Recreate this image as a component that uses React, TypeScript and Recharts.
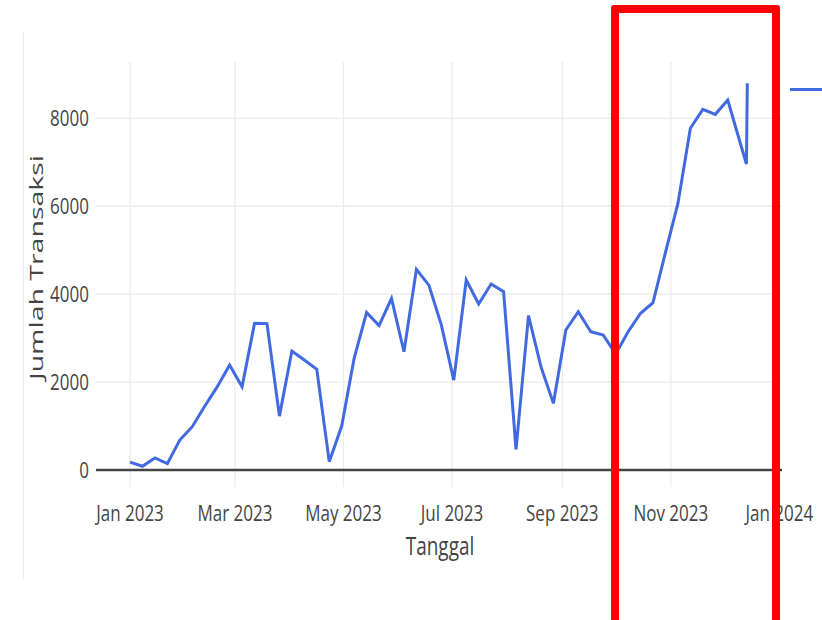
import React from 'react';
import { LineChart, Line, XAxis, YAxis, CartesianGrid, ReferenceLine, Label } from 'recharts';

const toT = (s: string) => Date.parse(s.length === 10 ? s : s + 'Z');

const dates = [
  '2023-01-01', '2023-01-08', '2023-01-15', '2023-01-22', '2023-01-29',
  '2023-02-05', '2023-02-12', '2023-02-19', '2023-02-26',
  '2023-03-05', '2023-03-12', '2023-03-19', '2023-03-26',
  '2023-04-02', '2023-04-09', '2023-04-16', '2023-04-23', '2023-04-30',
  '2023-05-07', '2023-05-14', '2023-05-21', '2023-05-28',
  '2023-06-04', '2023-06-11', '2023-06-18', '2023-06-25',
  '2023-07-02', '2023-07-09', '2023-07-16', '2023-07-23', '2023-07-30',
  '2023-08-06', '2023-08-13', '2023-08-20', '2023-08-27',
  '2023-09-03', '2023-09-10', '2023-09-17', '2023-09-24',
  '2023-10-01', '2023-10-08', '2023-10-15', '2023-10-22', '2023-10-29',
  '2023-11-05', '2023-11-12', '2023-11-19', '2023-11-26',
  '2023-12-03', '2023-12-13T12:00:00', '2023-12-14',
];

const transaksi = [
  180, 85, 275, 145, 680,
  985, 1450, 1890, 2390,
  1895, 3335, 3330, 1225,
  2705, 2500, 2290, 190, 1000,
  2540, 3585, 3285, 3905,
  2690, 4565, 4205, 3300,
  2045, 4320, 3775, 4230, 4055,
  470, 3510, 2350, 1515,
  3185, 3600, 3145, 3070,
  2640, 3145, 3565, 3805, 4950,
  6065, 7775, 8205, 8090,
  8415, 6960, 8800,
];

const monthTickDates = ['2023-01-01', '2023-03-01', '2023-05-01', '2023-07-01', '2023-09-01', '2023-11-01', '2024-01-01'];
const monthTickLabels = ['Jan 2023', 'Mar 2023', 'May 2023', 'Jul 2023', 'Sep 2023', 'Nov 2023', 'Jan 2024'];
const yTicks = [0, 2000, 4000, 6000, 8000];
const xDomainDates = ['2022-12-12T21:30:00', '2024-01-02T12:00:00'];
const yDomain = [-387, 9281];

const data = dates.map((d, i) => ({ t: toT(d), v: transaksi[i] }));
const monthTicks = monthTickDates.map(toT);
const xDomain = xDomainDates.map(toT);

const FONT = '"Open Sans", sans-serif';
const BLUE = '#4169E1';

const XTick = (props: any) => {
  const { x, y, payload } = props;
  const i = monthTicks.indexOf(payload.value);
  return (
    <g transform={`translate(${x},${y + 25.7}) scale(1,1.3)`}>
      <text textAnchor="middle" fill="#444" fontSize={17} fontFamily={FONT}>
        {monthTickLabels[i]}
      </text>
    </g>
  );
};

const YTick = (props: any) => {
  const { x, y, payload } = props;
  return (
    <g transform={`translate(${x + 1},${y}) scale(1,1.33)`}>
      <text textAnchor="end" dy="0.357em" fill="#444" fontSize={17} fontFamily={FONT}>
        {String(payload.value)}
      </text>
    </g>
  );
};

const XTitle = (props: any) => {
  const vb = props.viewBox || {};
  const cx = vb.x + vb.width / 2 + 1;
  const by = vb.y + 68;
  return (
    <g transform={`translate(${cx},${by}) scale(1,1.33)`}>
      <text textAnchor="middle" fill="#444" fontSize={19} fontFamily={FONT}>Tanggal</text>
    </g>
  );
};

const YTitle = (props: any) => {
  const vb = props.viewBox || {};
  const bx = vb.x + 7;
  const cy = vb.y + vb.height / 2 - 7;
  return (
    <g transform={`translate(${bx},${cy}) rotate(-90)`}>
      <text textAnchor="middle" fill="#444" fontSize={19} fontFamily={FONT} textLength={225} lengthAdjust="spacingAndGlyphs">
        Jumlah Transaksi
      </text>
    </g>
  );
};

export default function App() {
  return (
    <div style={{ position: 'absolute', left: 0, top: 0, width: 822, height: 620, background: '#fff', overflow: 'hidden' }}>
      <div style={{ position: 'absolute', left: 23, top: 32, width: 1, height: 548, background: '#ececec' }} />
      <LineChart
        width={822}
        height={620}
        data={data}
        margin={{ top: 62, right: 40, bottom: 93, left: 36 }}
      >
        <CartesianGrid stroke="#ebebeb" strokeWidth={1.3} syncWithTicks />
        <XAxis
          dataKey="t"
          type="number"
          domain={xDomain}
          ticks={monthTicks}
          allowDataOverflow
          axisLine={false}
          tickLine={false}
          height={40}
          tick={<XTick />}
          interval={0}
        >
          <Label content={<XTitle />} />
        </XAxis>
        <YAxis
          type="number"
          domain={yDomain}
          ticks={yTicks}
          allowDataOverflow
          axisLine={false}
          tickLine={false}
          width={60}
          tick={<YTick />}
          interval={0}
        >
          <Label content={<YTitle />} />
        </YAxis>
        <ReferenceLine y={0} stroke="#444" strokeWidth={2.5} />
        <Line
          type="linear"
          dataKey="v"
          stroke={BLUE}
          strokeWidth={3}
          dot={false}
          activeDot={false}
          isAnimationActive={false}
        />
      </LineChart>
      <div style={{ position: 'absolute', left: 790, top: 87.5, width: 40, height: 3, background: BLUE }} />
      <div
        style={{
          position: 'absolute',
          left: 611,
          top: 5,
          width: 169,
          height: 625,
          boxSizing: 'border-box',
          border: '8px solid #ff0000',
          borderRadius: 3,
        }}
      />
    </div>
  );
}
